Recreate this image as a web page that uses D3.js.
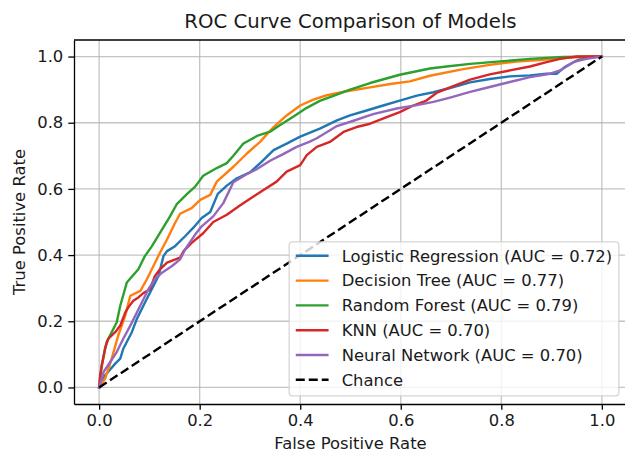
<!DOCTYPE html>
<html>
<head>
<meta charset="utf-8">
<script src="https://cdn.jsdelivr.net/npm/d3@7"></script>
<style>
  body { margin: 0; background: #fff; }
  svg { display: block; font-family: "DejaVu Sans", sans-serif; }
</style>
</head>
<body>
<div id="chart"></div>
<script>
// ROC points (false positive rate, true positive rate)
const lrFpr = [0, 0.012, 0.032, 0.042, 0.048, 0.065, 0.075, 0.088, 0.098, 0.108, 0.118, 0.128, 0.135, 0.151, 0.171, 0.187, 0.204, 0.221, 0.236, 0.254, 0.274, 0.300, 0.322, 0.347, 0.373, 0.400, 0.439, 0.473, 0.499, 0.532, 0.565, 0.598, 0.632, 0.665, 0.698, 0.738, 0.777, 0.817, 0.857, 0.890, 0.910, 0.926, 0.950, 0.969, 1];
const lrTpr = [0, 0.037, 0.072, 0.087, 0.117, 0.167, 0.207, 0.247, 0.277, 0.307, 0.337, 0.397, 0.412, 0.427, 0.457, 0.482, 0.512, 0.530, 0.585, 0.610, 0.632, 0.650, 0.680, 0.717, 0.737, 0.758, 0.782, 0.807, 0.822, 0.837, 0.852, 0.867, 0.882, 0.892, 0.905, 0.922, 0.932, 0.940, 0.943, 0.948, 0.948, 0.968, 0.988, 0.998, 1];

const dtFpr = [0, 0.012, 0.025, 0.038, 0.052, 0.062, 0.082, 0.095, 0.108, 0.121, 0.135, 0.151, 0.161, 0.184, 0.201, 0.221, 0.234, 0.267, 0.294, 0.320, 0.347, 0.373, 0.400, 0.426, 0.453, 0.492, 0.539, 0.579, 0.618, 0.658, 0.724, 0.777, 0.830, 0.883, 0.936, 1];
const dtTpr = [0, 0.027, 0.087, 0.157, 0.217, 0.277, 0.292, 0.327, 0.367, 0.407, 0.447, 0.497, 0.525, 0.542, 0.567, 0.582, 0.622, 0.667, 0.707, 0.742, 0.787, 0.822, 0.852, 0.870, 0.883, 0.895, 0.907, 0.917, 0.925, 0.942, 0.962, 0.975, 0.985, 0.990, 0.997, 1];

const rfFpr = [0, 0.005, 0.015, 0.035, 0.042, 0.055, 0.078, 0.091, 0.105, 0.125, 0.141, 0.154, 0.175, 0.191, 0.207, 0.234, 0.254, 0.267, 0.287, 0.314, 0.340, 0.360, 0.386, 0.413, 0.439, 0.466, 0.499, 0.539, 0.598, 0.658, 0.691, 0.738, 0.804, 0.857, 0.923, 1];
const rfTpr = [0, 0.067, 0.137, 0.197, 0.247, 0.317, 0.357, 0.397, 0.427, 0.477, 0.517, 0.553, 0.585, 0.607, 0.640, 0.663, 0.678, 0.700, 0.737, 0.760, 0.773, 0.793, 0.818, 0.845, 0.866, 0.881, 0.900, 0.920, 0.945, 0.964, 0.970, 0.978, 0.986, 0.993, 0.999, 1];

const knnFpr = [0, 0.002, 0.012, 0.018, 0.032, 0.042, 0.052, 0.058, 0.068, 0.078, 0.088, 0.101, 0.111, 0.121, 0.135, 0.161, 0.168, 0.184, 0.207, 0.227, 0.254, 0.280, 0.307, 0.327, 0.353, 0.373, 0.400, 0.413, 0.433, 0.459, 0.486, 0.512, 0.539, 0.572, 0.598, 0.625, 0.651, 0.671, 0.698, 0.738, 0.777, 0.817, 0.857, 0.890, 0.917, 0.950, 1];
const knnTpr = [0, 0.037, 0.120, 0.147, 0.167, 0.187, 0.227, 0.242, 0.262, 0.272, 0.285, 0.297, 0.337, 0.357, 0.377, 0.392, 0.412, 0.437, 0.466, 0.500, 0.522, 0.550, 0.577, 0.597, 0.622, 0.652, 0.672, 0.702, 0.727, 0.742, 0.772, 0.787, 0.797, 0.817, 0.832, 0.852, 0.867, 0.890, 0.907, 0.930, 0.946, 0.958, 0.970, 0.983, 0.993, 1.0, 1];

const nnFpr = [0, 0.009, 0.022, 0.035, 0.048, 0.062, 0.072, 0.085, 0.098, 0.111, 0.125, 0.145, 0.161, 0.171, 0.191, 0.204, 0.227, 0.247, 0.267, 0.294, 0.314, 0.340, 0.366, 0.393, 0.419, 0.433, 0.473, 0.506, 0.545, 0.592, 0.632, 0.665, 0.698, 0.738, 0.777, 0.817, 0.857, 0.897, 0.917, 0.943, 0.969, 1];
const nnTpr = [0, 0.047, 0.077, 0.107, 0.147, 0.187, 0.217, 0.257, 0.297, 0.327, 0.347, 0.367, 0.387, 0.417, 0.462, 0.487, 0.517, 0.557, 0.620, 0.645, 0.660, 0.685, 0.705, 0.727, 0.743, 0.753, 0.790, 0.806, 0.826, 0.843, 0.853, 0.863, 0.876, 0.893, 0.908, 0.923, 0.938, 0.948, 0.958, 0.983, 0.993, 1];

const chanceFpr = [0, 1];
const chanceTpr = [0, 1];

const modelNames = ['Logistic Regression', 'Decision Tree', 'Random Forest', 'KNN', 'Neural Network'];
const modelAuc = [0.72, 0.77, 0.79, 0.70, 0.70];
const modelColors = ['#1f77b4', '#ff7f0e', '#2ca02c', '#d62728', '#9467bd'];
const xTicks = [0, 0.2, 0.4, 0.6, 0.8, 1.0];
const yTicks = [0, 0.2, 0.4, 0.6, 0.8, 1.0];

const series = [
  { fpr: lrFpr, tpr: lrTpr },
  { fpr: dtFpr, tpr: dtTpr },
  { fpr: rfFpr, tpr: rfTpr },
  { fpr: knnFpr, tpr: knnTpr },
  { fpr: nnFpr, tpr: nnTpr }
].map((s, i) => ({
  name: modelNames[i] + ' (AUC = ' + modelAuc[i].toFixed(2) + ')',
  color: modelColors[i],
  points: s.fpr.map((f, j) => [f, s.tpr[j]])
}));

const width = 625, height = 456;
const margin = { top: 40, right: -2, bottom: 52, left: 74 };
const fs = 16.4;

const svg = d3.select('#chart').append('svg')
  .attr('width', width)
  .attr('height', height);

const x = d3.scaleLinear().domain([-0.05, 1.05]).range([margin.left, width - margin.right]);
const y = d3.scaleLinear().domain([-0.05, 1.05]).range([height - margin.bottom, margin.top]);

// grid
const grid = svg.append('g').attr('stroke', '#b0b0b0').attr('stroke-opacity', 0.75).attr('stroke-width', 1.3);
grid.selectAll('.gx').data(xTicks).join('line')
  .attr('x1', d => x(d)).attr('x2', d => x(d))
  .attr('y1', y.range()[0]).attr('y2', y.range()[1]);
grid.selectAll('.gy').data(yTicks).join('line')
  .attr('y1', d => y(d)).attr('y2', d => y(d))
  .attr('x1', x.range()[0]).attr('x2', x.range()[1]);

// lines
const line = d3.line().x(d => x(d[0])).y(d => y(d[1]));
const plot = svg.append('g').attr('fill', 'none').attr('stroke-linejoin', 'round').attr('stroke-linecap', 'square');
plot.selectAll('path.roc').data(series).join('path')
  .attr('class', 'roc')
  .attr('stroke', d => d.color)
  .attr('stroke-width', 2.4)
  .attr('d', d => line(d.points));
plot.append('path')
  .attr('stroke', '#000')
  .attr('stroke-width', 2.4)
  .attr('stroke-dasharray', '9,4')
  .attr('stroke-linecap', 'butt')
  .attr('d', line(chanceFpr.map((f, i) => [f, chanceTpr[i]])));

// axes
const xAxis = d3.axisBottom(x).tickValues(xTicks).tickFormat(d3.format('.1f')).tickSize(5.7).tickPadding(5).tickSizeOuter(0);
const yAxis = d3.axisLeft(y).tickValues(yTicks).tickFormat(d3.format('.1f')).tickSize(5.7).tickPadding(5).tickSizeOuter(0);

const gx = svg.append('g').attr('transform', `translate(0,${y.range()[0]})`).call(xAxis);
const gy = svg.append('g').attr('transform', `translate(${x.range()[0]},0)`).call(yAxis);
[gx, gy].forEach(g => {
  g.select('.domain').attr('stroke', '#000').attr('stroke-width', 1.3);
  g.selectAll('.tick line').attr('stroke', '#000').attr('stroke-width', 1.3);
  g.selectAll('.tick text').attr('font-size', fs).attr('fill', '#1a1a1a').attr('font-family', 'DejaVu Sans');
});
svg.append('line')
  .attr('x1', x.range()[0]).attr('x2', x.range()[1])
  .attr('y1', y.range()[1]).attr('y2', y.range()[1])
  .attr('stroke', '#000').attr('stroke-width', 1.3);

// legend
const lg = svg.append('g');
const legendItems = series.map(s => ({ name: s.name, color: s.color, dash: null }))
  .concat([{ name: 'Chance', color: '#000', dash: '9,4' }]);
const pitch = 24.8;
const boxRight = x.range()[1] - 8.2, boxBottom = y.range()[0] - 8.2;
const boxH = 154;
const boxTop = boxBottom - boxH;
const box = lg.append('rect')
  .attr('fill', '#fff').attr('fill-opacity', 0.8)
  .attr('stroke', '#cccccc').attr('stroke-opacity', 0.8).attr('stroke-width', 1.3)
  .attr('rx', 3.3).attr('y', boxTop).attr('height', boxH);
const rows = lg.selectAll('g.item').data(legendItems).join('g').attr('class', 'item');
const texts = rows.append('text')
  .attr('font-size', fs).attr('fill', '#1a1a1a')
  .attr('dy', '0.35em')
  .text(d => d.name);
const maxW = d3.max(texts.nodes(), n => n.getComputedTextLength());
const boxW = maxW + 6.6 * 2 + 32.8 + 13.1;
const boxLeft = boxRight - boxW;
box.attr('x', boxLeft).attr('width', boxW);
rows.attr('transform', (d, i) => `translate(${boxLeft + 6.6},${boxTop + 14 + i * pitch})`);
rows.append('line')
  .attr('x1', 0).attr('x2', 32.8)
  .attr('stroke', d => d.color).attr('stroke-width', 2.4)
  .attr('stroke-dasharray', d => d.dash);
texts.attr('x', 32.8 + 13.1);

// titles
svg.append('text')
  .attr('x', (x.range()[0] + x.range()[1]) / 2).attr('y', 28)
  .attr('text-anchor', 'middle').attr('font-size', 19.7).attr('fill', '#1a1a1a')
  .text('ROC Curve Comparison of Models');
svg.append('text')
  .attr('x', (x.range()[0] + x.range()[1]) / 2).attr('y', 449)
  .attr('text-anchor', 'middle').attr('font-size', fs).attr('fill', '#1a1a1a')
  .text('False Positive Rate');
svg.append('text')
  .attr('transform', `translate(25,${(y.range()[0] + y.range()[1]) / 2}) rotate(-90)`)
  .attr('text-anchor', 'middle').attr('font-size', fs).attr('fill', '#1a1a1a')
  .text('True Positive Rate');
</script>
</body>
</html>
